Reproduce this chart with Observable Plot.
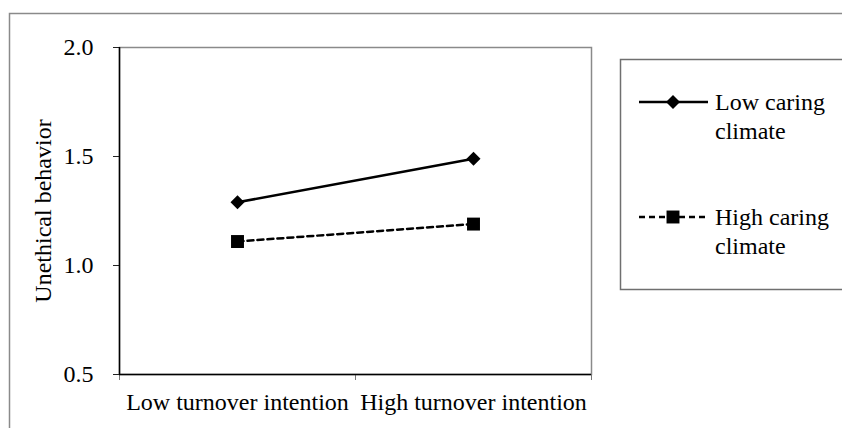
<!DOCTYPE html>
<html><head><meta charset="utf-8">
<script src="https://cdn.jsdelivr.net/npm/d3@7"></script>
<script src="https://cdn.jsdelivr.net/npm/@observablehq/plot@0.6"></script>
<style>body{margin:0;background:#fff}</style>
</head><body><div id="chart"></div>
<script>
const categories = ["Low turnover intention", "High turnover intention"];
const seriesNames = ["Low caring climate", "High caring climate"];
const legendLines = [["Low caring", "climate"], ["High caring", "climate"]];
const lowCaring = [1.29, 1.49];
const highCaring = [1.11, 1.19];
const yTicks = [0.5, 1.0, 1.5, 2.0];
const yLabel = "Unethical behavior";

const toRows = (vals, s) => vals.map((v, i) => ({series: seriesNames[s], pos: i + 0.5, value: v}));
const lowRows = toRows(lowCaring, 0);
const highRows = toRows(highCaring, 1);
const boundaries = d3.range(categories.length + 1);
const centers = categories.map((c, i) => i + 0.5);

const FONT = "Liberation Serif, Times New Roman, serif";

const svg = Plot.plot({
  width: 842, height: 428,
  marginLeft: 119, marginRight: 251, marginTop: 47, marginBottom: 54,
  style: {fontFamily: FONT, fontSize: "24px", color: "#000", background: "white", overflow: "visible"},
  x: {domain: [0, categories.length]},
  y: {domain: [0.5, 2.0]},
  marks: [
    Plot.frame({stroke: "#8a8a8a", strokeWidth: 1.5}),
    Plot.axisY({ticks: yTicks, tickFormat: d3.format(".1f"), tickSize: 6, tickPadding: 20,
      label: yLabel, labelAnchor: "center", labelOffset: 86, labelArrow: "none", stroke: "#222"}),
    Plot.axisX({ticks: boundaries, tickSize: 6, tickFormat: () => "", label: null, stroke: "#777"}),
    Plot.axisX({ticks: centers, tickSize: 0, tickPadding: 18, tickFormat: d => categories[Math.floor(d)], label: null}),
    Plot.ruleX([0], {stroke: "#000", strokeWidth: 1.5}),
    Plot.ruleY([0.5], {stroke: "#000", strokeWidth: 1.5}),
    Plot.line(lowRows, {x: "pos", y: "value", stroke: "#000", strokeWidth: 2.5}),
    Plot.line(highRows, {x: "pos", y: "value", stroke: "#000", strokeWidth: 2.5, strokeDasharray: "6,4"}),
    Plot.dot(lowRows, {x: "pos", y: "value", symbol: "diamond2", r: 6.3, fill: "#000"}),
    Plot.dot(highRows, {x: "pos", y: "value", symbol: "square", r: 7.3, fill: "#000"})
  ]
});
document.getElementById("chart").append(svg);

// outer border and legend
const s = d3.select(svg);
s.insert("rect", ":first-child").attr("x", 9.5).attr("y", 13.5).attr("width", 900).attr("height", 500)
  .attr("fill", "none").attr("stroke", "#8a8a8a").attr("stroke-width", 1.5);
const lg = s.append("g");
lg.append("rect").attr("x", 620.5).attr("y", 59.5).attr("width", 300).attr("height", 230)
  .attr("fill", "white").attr("stroke", "#6f6f6f").attr("stroke-width", 1.5);
const syms = [d3.symbolDiamond2, d3.symbolSquare];
const rs = [6.3, 7.3];
const dashes = [null, "6,4"];
const rowY = [102, 217];
legendLines.forEach((lines, i) => {
  const y = rowY[i];
  lg.append("line").attr("x1", 639).attr("x2", 708).attr("y1", y).attr("y2", y)
    .attr("stroke", "#000").attr("stroke-width", 2.5).attr("stroke-dasharray", dashes[i]);
  lg.append("path").attr("transform", `translate(673,${y})`)
    .attr("d", d3.symbol(syms[i], Math.PI * rs[i] * rs[i])()).attr("fill", "#000");
  lines.forEach((t, j) => {
    lg.append("text").attr("x", 715).attr("y", y + j * 29).attr("dy", "0.35em")
      .attr("text-anchor", "start")
      .attr("font-family", FONT).attr("font-size", 24).attr("fill", "#000").text(t);
  });
});
</script>
</body></html>
